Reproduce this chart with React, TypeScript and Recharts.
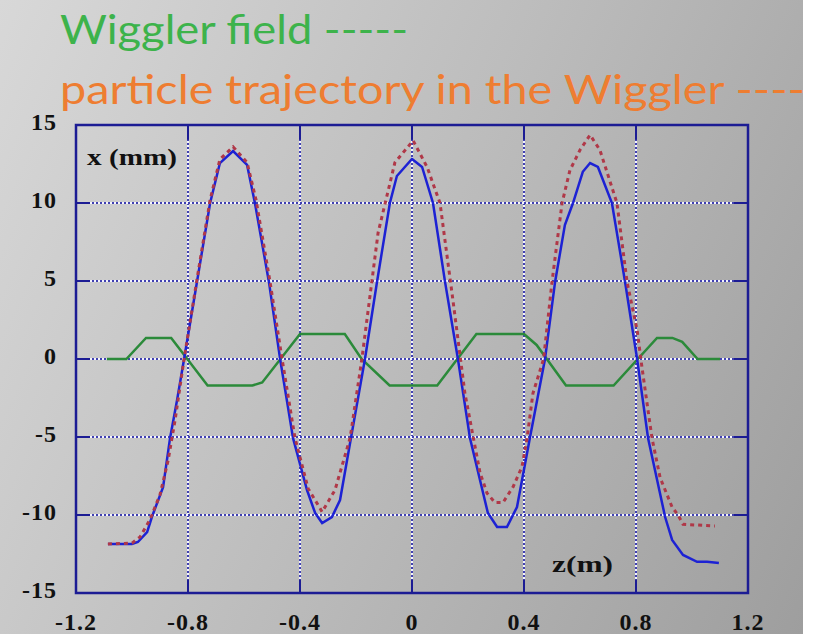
import React from 'react';
import { LineChart, Line, XAxis, YAxis, ReferenceLine, ReferenceArea } from 'recharts';

// wiggler field (arb. units)
const fieldZ = [-1.09, -1.02, -0.95, -0.86, -0.73, -0.57, -0.535, -0.4, -0.24, -0.18, -0.08, 0.09, 0.23, 0.4, 0.445, 0.55, 0.72, 0.875, 0.93, 0.965, 1.02, 1.1];
const fieldB = [0, 0, 1.35, 1.35, -1.7, -1.7, -1.5, 1.6, 1.6, 0, -1.7, -1.7, 1.6, 1.6, 0.9, -1.7, -1.7, 1.35, 1.35, 1.1, 0, 0];

// trajectory, solid curve
const orbitZ = [-1.086, -1.0, -0.979, -0.946, -0.929, -0.889, -0.864, -0.839, -0.814, -0.768, -0.721, -0.686, -0.639, -0.589, -0.561, -0.511, -0.471, -0.425, -0.375, -0.346, -0.321, -0.286, -0.257, -0.218, -0.168, -0.125, -0.079, -0.054, 0, 0.036, 0.075, 0.118, 0.164, 0.207, 0.271, 0.304, 0.339, 0.375, 0.421, 0.475, 0.511, 0.546, 0.575, 0.61, 0.636, 0.664, 0.714, 0.761, 0.804, 0.843, 0.904, 0.929, 0.968, 1.018, 1.054, 1.096];
const orbitX = [-11.86, -11.86, -11.73, -11.09, -10.13, -8.21, -5.06, -2.63, 0, 4.94, 10.0, 12.56, 13.33, 12.44, 10.0, 4.94, 0, -5.06, -8.4, -9.87, -10.51, -10.13, -9.04, -5.06, 0, 4.94, 10.0, 11.73, 12.82, 12.31, 10.0, 4.94, 0, -5.06, -9.87, -10.77, -10.77, -9.49, -5.06, 0, 4.94, 8.59, 10.0, 12.0, 12.56, 12.31, 10.0, 4.94, 0, -5.06, -10.13, -11.6, -12.56, -13.0, -13.0, -13.08];

// trajectory, dotted curve
const orbitDotZ = [-1.086, -1.0, -0.971, -0.936, -0.9, -0.871, -0.846, -0.814, -0.768, -0.721, -0.686, -0.639, -0.589, -0.557, -0.507, -0.464, -0.418, -0.371, -0.321, -0.275, -0.221, -0.179, -0.121, -0.061, 0.004, 0.054, 0.1, 0.146, 0.189, 0.243, 0.268, 0.296, 0.325, 0.361, 0.393, 0.411, 0.432, 0.47, 0.5, 0.536, 0.564, 0.6, 0.636, 0.671, 0.714, 0.732, 0.768, 0.804, 0.821, 0.857, 0.886, 0.929, 0.95, 0.968, 1.082];
const orbitDotX = [-11.86, -11.8, -11.4, -10.3, -8.7, -6.5, -3.9, 0, 5.1, 10.2, 12.8, 13.6, 12.6, 10.2, 4.94, 0, -5.06, -8.3, -9.8, -8.4, -5.06, 0, 8.1, 12.6, 14.0, 12.3, 10.0, 3.8, -2.2, -7.3, -8.6, -9.2, -9.2, -8.2, -6.9, -5.06, -2.2, 0, 4.94, 10.0, 12.1, 13.4, 14.36, 13.4, 11.0, 10.0, 4.94, 1.86, -0.5, -5.06, -7.6, -9.5, -10.0, -10.6, -10.7];

const zTicks = [-1.2, -0.8, -0.4, 0, 0.4, 0.8, 1.2];
const xTicks = [-15, -10, -5, 0, 5, 10, 15];
const zGrid = [-0.8, -0.4, 0, 0.4, 0.8];
const xGrid = [-10, -5, 0, 5, 10];

const zip = (zs: number[], vs: number[]) => zs.map((z, i) => ({ z, v: vs[i] }));
const fieldData = zip(fieldZ, fieldB);
const orbitData = zip(orbitZ, orbitX);
const orbitDotData = zip(orbitDotZ, orbitDotX);

const frame = '#1c1c94';
const serif = 'Liberation Serif, Times New Roman, serif';

const XTick = (props: any) => (
  <text x={props.x} y={props.y + 37} textAnchor="middle" fontFamily={serif} fontWeight="bold" fontSize={24} fill="#111" letterSpacing={1}>
    {props.payload.value}
  </text>
);

const YTick = (props: any) => (
  <text x={props.x - 19} y={props.y + 5} textAnchor="end" fontFamily={serif} fontWeight="bold" fontSize={24} fill="#111" letterSpacing={1}>
    {props.payload.value}
  </text>
);

export default function App() {
  return (
    <div style={{ position: 'absolute', left: 0, top: 0, width: 816, height: 634, background: '#fff' }}>
      <div style={{ position: 'absolute', left: 0, top: 0, width: 803, height: 634, background: 'linear-gradient(115deg, #d8d8d8 0%, #bcbcbc 50%, #9e9e9e 100%)' }} />
      <div style={{ position: 'absolute', left: 0, top: 0 }}>
        <LineChart width={816} height={634} margin={{ top: 125, right: 68, bottom: 0, left: 0 }}>
          <XAxis type="number" dataKey="z" domain={[-1.2, 1.2]} ticks={zTicks} height={41} axisLine={false} tickLine={false} tickSize={0} tickMargin={0} tick={XTick} allowDataOverflow />
          <YAxis type="number" domain={[-15, 15]} ticks={xTicks} width={76} axisLine={false} tickLine={false} tickSize={0} tickMargin={0} tick={YTick} allowDataOverflow />

          {zGrid.map((z) => <ReferenceLine key={`gw${z}`} x={z} stroke="#f4f4ff" strokeWidth={2} />)}
          {zGrid.map((z) => <ReferenceLine key={`gb${z}`} x={z} stroke="#4040b0" strokeWidth={2} strokeDasharray="2 2" />)}
          {xGrid.map((v) => <ReferenceLine key={`hw${v}`} y={v} stroke="#f4f4ff" strokeWidth={2} />)}
          {xGrid.map((v) => <ReferenceLine key={`hb${v}`} y={v} stroke="#4040b0" strokeWidth={2} strokeDasharray="2 2" />)}

          {zGrid.map((z) => <ReferenceLine key={`tb${z}`} segment={[{ x: z, y: -15 }, { x: z, y: -14.15 }]} stroke={frame} strokeWidth={2} />)}
          {zGrid.map((z) => <ReferenceLine key={`tt${z}`} segment={[{ x: z, y: 15 }, { x: z, y: 14.05 }]} stroke={frame} strokeWidth={2} />)}
          {xGrid.map((v) => <ReferenceLine key={`tl${v}`} segment={[{ x: -1.2, y: v }, { x: -1.15, y: v }]} stroke={frame} strokeWidth={2} />)}
          {xGrid.map((v) => <ReferenceLine key={`tr${v}`} segment={[{ x: 1.15, y: v }, { x: 1.2, y: v }]} stroke={frame} strokeWidth={2} />)}

          <ReferenceArea x1={-1.2} x2={1.2} y1={-15} y2={15} fill="none" fillOpacity={0} stroke={frame} strokeWidth={2.5} />

          <Line data={fieldData} dataKey="v" type="linear" stroke="#2b8a3a" strokeWidth={2.5} dot={false} activeDot={false} isAnimationActive={false} />
          <Line data={orbitData} dataKey="v" type="linear" stroke="#1d22d4" strokeWidth={2.5} dot={false} activeDot={false} isAnimationActive={false} />
          <Line data={orbitDotData} dataKey="v" type="linear" stroke="#b03848" strokeWidth={3} strokeDasharray="4 4" dot={false} activeDot={false} isAnimationActive={false} />
        </LineChart>
      </div>
      <svg width={816} height={634} style={{ position: 'absolute', left: 0, top: 0, pointerEvents: 'none' }}>
        <text x={60} y={44} fontFamily="Lato, Open Sans, sans-serif" fontSize={41} fill="#3db34b" textLength={348} lengthAdjust="spacingAndGlyphs">
          Wiggler field -----
        </text>
        <text x={60} y={104} fontFamily="Lato, Open Sans, sans-serif" fontSize={41} fill="#ee7d31" textLength={745} lengthAdjust="spacingAndGlyphs">
          particle trajectory in the Wiggler ----
        </text>
        <text x={87} y={165} fontFamily={serif} fontWeight="bold" fontSize={24} fill="#111" textLength={90} lengthAdjust="spacingAndGlyphs">
          x (mm)
        </text>
        <text x={552} y={572} fontFamily={serif} fontWeight="bold" fontSize={24} fill="#111" textLength={61} lengthAdjust="spacingAndGlyphs">
          z(m)
        </text>
      </svg>
    </div>
  );
}
